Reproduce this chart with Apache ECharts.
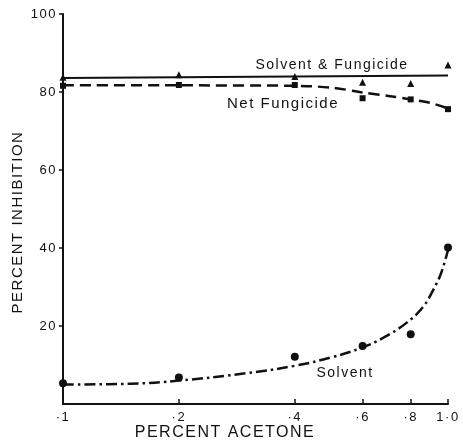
<!DOCTYPE html>
<html>
<head>
<meta charset="utf-8">
<script src="https://cdn.jsdelivr.net/npm/echarts@6/dist/echarts.min.js"></script>
<style>
  html, body { margin: 0; padding: 0; background: #fff; }
  #chart { width: 463px; height: 442px; }
</style>
</head>
<body>
<div id="chart"></div>
<script>
// ---- data ----
const acetone = [0.1, 0.2, 0.4, 0.6, 0.8, 1.0];
const xTickLabels = ['\u00B71', '\u00B72', '\u00B74', '\u00B76', '\u00B78', '1\u00B70'];
const yTickValues = [20, 40, 60, 80, 100];

const solventFungicide = [83.8, 84.4, 84.0, 82.5, 82.2, 86.9];   // triangles
const netFungicide     = [81.6, 81.8, 81.8, 78.4, 78.1, 75.6];   // squares
const solvent          = [5.3, 6.8, 12.1, 14.9, 17.9, 40.1];     // circles

// fitted curves as drawn
const sfCurveX  = [0.1, 1.0];
const sfCurveY  = [83.6, 84.2];
const netCurveX = [0.1, 0.2, 0.4, 0.5, 0.6, 0.7, 0.8, 0.9, 1.0];
const netCurveY = [81.7, 81.7, 81.6, 81.1, 79.9, 79.0, 78.1, 77.2, 75.8];
const solCurveX = [0.1, 0.15, 0.2, 0.3, 0.4, 0.5, 0.6, 0.68, 0.78, 0.86, 0.915, 0.96, 1.0];
const solCurveY = [5.0, 5.2, 6.0, 7.9, 9.8, 12.0, 14.5, 17.0, 20.8, 24.8, 29.2, 33.6, 39.5];

// axis baseline (x domain at y = 0)
const baseX = [0.1, 1.0];
const baseY = [0, 0];

// slight letter spacing for the typewriter-like lettering of the original
(function () {
  const proto = CanvasRenderingContext2D.prototype;
  const fill = proto.fillText;
  proto.fillText = function () {
    if ('letterSpacing' in this) this.letterSpacing = '1.5px';
    return fill.apply(this, arguments);
  };
})();

// ---- build ----
const lg = v => Math.log10(v);
const pairs = (xs, ys) => xs.map((x, i) => [lg(x), ys[i]]);
const tickPos = acetone.map(lg);

const FONT = '"Liberation Sans", Arial, Helvetica, sans-serif';
const INK = '#111';

const chart = echarts.init(document.getElementById('chart'), null, { renderer: 'canvas' });
chart.setOption({
  animation: false,
  backgroundColor: '#fff',
  grid: { left: 63, right: 15, top: 14, bottom: 38 },
  xAxis: {
    type: 'value', min: -1, max: 0,
    splitLine: { show: false },
    axisLine: { show: true, onZero: false, lineStyle: { color: INK, width: 2 } },
    axisTick: { show: true, inside: true, length: 5, customValues: tickPos, lineStyle: { color: INK, width: 1.5 } },
    axisLabel: {
      customValues: tickPos, margin: 7, color: INK, fontFamily: FONT, fontSize: 13,
      formatter: v => {
        let best = 0;
        tickPos.forEach((p, i) => { if (Math.abs(p - v) < Math.abs(tickPos[best] - v)) best = i; });
        return xTickLabels[best];
      }
    }
  },
  yAxis: {
    type: 'value', min: 0, max: 100, interval: 20,
    splitLine: { show: false },
    axisLine: { show: true, onZero: false, lineStyle: { color: INK, width: 2 } },
    axisTick: { show: true, inside: false, length: 4, customValues: yTickValues, lineStyle: { color: INK, width: 1.5 } },
    axisLabel: { customValues: yTickValues, margin: 6, color: INK, fontFamily: FONT, fontSize: 13 }
  },
  series: [
    { type: 'line', data: pairs(baseX, baseY), showSymbol: false, symbol: 'none', clip: false, silent: true,
      z: 10, lineStyle: { color: INK, width: 2, type: 'solid' } },
    { type: 'line', data: pairs(sfCurveX, sfCurveY), showSymbol: false, symbol: 'none',
      lineStyle: { color: INK, width: 2 } },
    { type: 'line', data: pairs(netCurveX, netCurveY), showSymbol: false, symbol: 'none', smooth: 0.3,
      lineStyle: { color: INK, width: 2.5, type: [11, 6] } },
    { type: 'line', data: pairs(solCurveX, solCurveY), showSymbol: false, symbol: 'none', smooth: 0.4,
      lineStyle: { color: INK, width: 2.5, type: [11, 4, 2.5, 4] } },
    { type: 'scatter', data: pairs(acetone, solventFungicide), symbol: 'triangle', symbolSize: 7,
      itemStyle: { color: INK, opacity: 1 } },
    { type: 'scatter', data: pairs(acetone, netFungicide), symbol: 'rect', symbolSize: 6,
      itemStyle: { color: INK, opacity: 1 } },
    { type: 'scatter', data: pairs(acetone, solvent), symbol: 'circle', symbolSize: 8,
      itemStyle: { color: INK, opacity: 1 } }
  ],
  graphic: [
    { type: 'text', x: 332, y: 65, style: { text: 'Solvent & Fungicide', fill: INK, font: '14px ' + FONT, textAlign: 'center', textVerticalAlign: 'middle' } },
    { type: 'text', x: 283, y: 104, style: { text: 'Net Fungicide', fill: INK, font: '15px ' + FONT, textAlign: 'center', textVerticalAlign: 'middle' } },
    { type: 'text', x: 345, y: 373, style: { text: 'Solvent', fill: INK, font: '14px ' + FONT, textAlign: 'center', textVerticalAlign: 'middle' } },
    { type: 'text', x: 225, y: 433, style: { text: 'PERCENT ACETONE', fill: INK, font: '16px ' + FONT, textAlign: 'center', textVerticalAlign: 'middle' } },
    { type: 'text', x: 18, y: 222, rotation: Math.PI / 2, style: { text: 'PERCENT INHIBITION', fill: INK, font: '15px ' + FONT, textAlign: 'center', textVerticalAlign: 'middle' } }
  ]
});
</script>
</body>
</html>
